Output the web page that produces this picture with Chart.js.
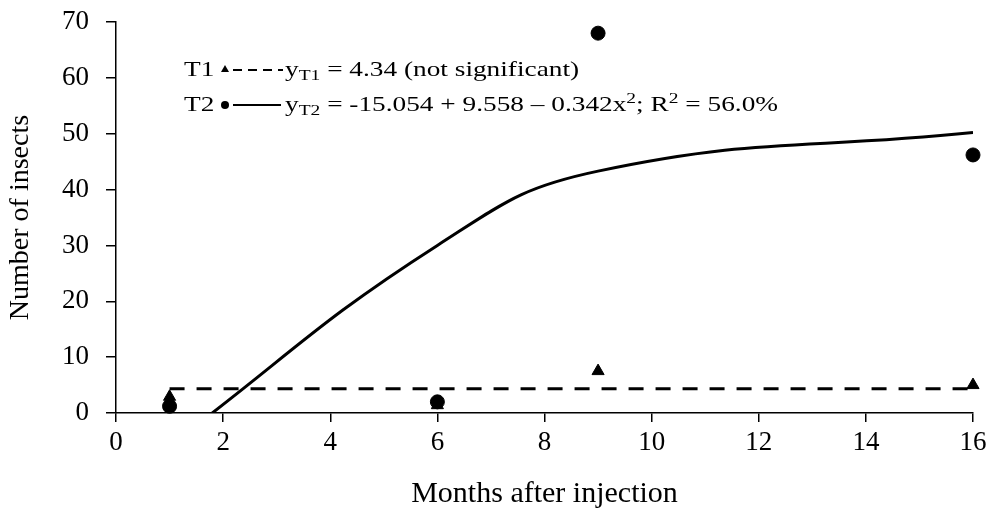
<!DOCTYPE html>
<html>
<head>
<meta charset="utf-8">
<script src="https://cdn.jsdelivr.net/npm/chart.js@4"></script>
<style>
  html, body { margin: 0; padding: 0; background: #fff; }
  #chart { display: block; }
</style>
</head>
<body>
<canvas id="chart" width="991" height="516"></canvas>
<script>
// observed values
const months = [1, 6, 9, 16];
const t1Insects = [2.9, 1.4, 7.5, 5.0];
const t2Insects = [1.2, 2.0, 68.0, 46.2];

// fitted lines
const t1Fit = [4.34, 4.34, 4.34, 4.34];
const t2Fit = [-5.84, 30.0, 43.3, 50.2];

const xTicks = [0, 2, 4, 6, 8, 10, 12, 14, 16];
const yTicks = [0, 10, 20, 30, 40, 50, 60, 70];

const serif = '"Liberation Serif", "Times New Roman", serif';

function toPoints(xs, ys) {
  return xs.map((x, i) => ({ x: x, y: ys[i] }));
}

// draws the equation legend inside the plot (sub/superscripts by hand)
const equationLegend = {
  id: 'equationLegend',
  afterDraw(chart) {
    const ctx = chart.ctx;
    const big = '21px ' + serif;
    const small = '15px ' + serif;
    const sx = 1.3; // the reference text is set wide

    function run(parts, x, y) {
      ctx.save();
      ctx.translate(x, y);
      ctx.scale(sx, 1);
      let cx = 0;
      parts.forEach(p => {
        ctx.font = p[1] === 0 ? big : small;
        ctx.fillText(p[0], cx, p[1]);
        cx += ctx.measureText(p[0]).width;
      });
      ctx.restore();
    }

    ctx.save();
    ctx.fillStyle = '#000';
    ctx.strokeStyle = '#000';
    ctx.textBaseline = 'alphabetic';

    // row 1
    run([['T1', 0]], 184, 76);
    ctx.beginPath();
    ctx.moveTo(225, 65); ctx.lineTo(229, 72); ctx.lineTo(221, 72); ctx.closePath();
    ctx.fill();
    ctx.lineWidth = 2;
    ctx.setLineDash([9, 6]);
    ctx.beginPath(); ctx.moveTo(233, 70); ctx.lineTo(283, 70); ctx.stroke();
    ctx.setLineDash([]);
    run([['y', 0], ['T1', 4], [' = 4.34 (not significant)', 0]], 285, 76);

    // row 2
    run([['T2', 0]], 184, 111);
    ctx.beginPath(); ctx.arc(225, 105, 4, 0, Math.PI * 2); ctx.fill();
    ctx.lineWidth = 2;
    ctx.beginPath(); ctx.moveTo(233, 105); ctx.lineTo(281, 105); ctx.stroke();
    run([['y', 0], ['T2', 4], [' = -15.054 + 9.558 \u2013 0.342x', 0], ['2', -8],
         ['; R', 0], ['2', -8], [' = 56.0%', 0]], 285, 111);
    ctx.restore();
  }
};

new Chart(document.getElementById('chart'), {
  type: 'scatter',
  data: {
    datasets: [
      {
        label: 'T2 fit',
        type: 'line',
        data: toPoints(months, t2Fit),
        borderColor: '#000',
        borderWidth: 3,
        pointRadius: 0,
        tension: 0.45,
        fill: false
      },
      {
        label: 'T1 fit',
        type: 'line',
        data: toPoints(months, t1Fit),
        borderColor: '#000',
        borderWidth: 3,
        borderDash: [15, 12],
        pointRadius: 0,
        fill: false
      },
      {
        label: 'T1',
        data: toPoints(months, t1Insects),
        pointStyle: 'triangle',
        pointRadius: 7,
        backgroundColor: '#000',
        borderColor: '#000',
        clip: false
      },
      {
        label: 'T2',
        data: toPoints(months, t2Insects),
        pointStyle: 'circle',
        pointRadius: 7,
        backgroundColor: '#000',
        borderColor: '#000',
        clip: false
      }
    ]
  },
  options: {
    responsive: false,
    animation: false,
    layout: { padding: { top: 22, right: 18, left: 0, bottom: 0 } },
    plugins: {
      legend: { display: false },
      tooltip: { enabled: false }
    },
    scales: {
      x: {
        type: 'linear',
        min: 0,
        max: 16,
        afterBuildTicks: s => { s.ticks = xTicks.map(v => ({ value: v })); },
        afterFit: s => { s.height = 103; s.paddingRight = 0; s.paddingLeft = 0; },
        border: { color: '#000', width: 1.5 },
        grid: { drawOnChartArea: false, color: '#000', tickLength: 9, lineWidth: 1.5 },
        ticks: { color: '#000', padding: 5, font: { family: serif, size: 27 } },
        title: {
          display: true,
          text: 'Months after injection',
          color: '#000',
          padding: { top: 14 },
          font: { family: serif, size: 30 }
        }
      },
      y: {
        min: 0,
        max: 70,
        afterBuildTicks: s => { s.ticks = yTicks.map(v => ({ value: v })); },
        afterFit: s => { s.width = 116; s.paddingTop = 0; s.paddingBottom = 0; },
        border: { color: '#000', width: 1.5 },
        grid: { drawOnChartArea: false, color: '#000', tickLength: 10, lineWidth: 1.5 },
        ticks: { color: '#000', padding: 17, font: { family: serif, size: 27 } },
        title: {
          display: true,
          text: 'Number of insects',
          color: '#000',
          padding: { bottom: 0 },
          font: { family: serif, size: 28 }
        }
      }
    }
  },
  plugins: [equationLegend]
});
</script>
</body>
</html>
